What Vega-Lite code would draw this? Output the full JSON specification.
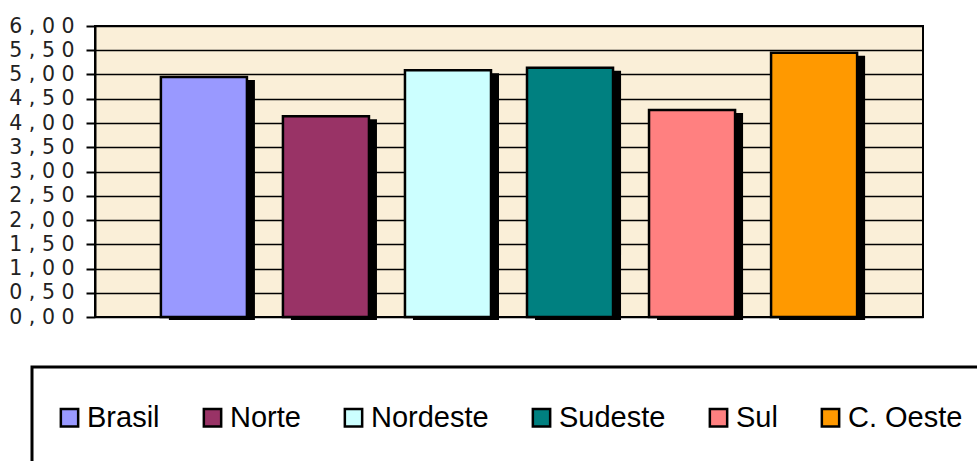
{
  "$schema": "https://vega.github.io/schema/vega-lite/v6.json",
  "width": 828,
  "height": 291,
  "autosize": {"type": "none"},
  "padding": {"left": 95, "top": 26, "right": 54, "bottom": 144},
  "background": "white",
  "config": {
    "view": {"fill": "#FAEFD8", "stroke": "#000", "strokeWidth": 2}
  },
  "data": {
    "values": [
      {"regiao": "Brasil", "valor": 4.95},
      {"regiao": "Norte", "valor": 4.14},
      {"regiao": "Nordeste", "valor": 5.09},
      {"regiao": "Sudeste", "valor": 5.14},
      {"regiao": "Sul", "valor": 4.27},
      {"regiao": "C. Oeste", "valor": 5.45}
    ]
  },
  "encoding": {
    "x": {
      "field": "regiao",
      "type": "nominal",
      "sort": null,
      "scale": {"paddingInner": 0.295, "paddingOuter": 0.54},
      "axis": {"title": null, "labels": false, "ticks": false, "domain": false, "grid": false}
    },
    "y": {
      "field": "valor",
      "type": "quantitative",
      "scale": {"domain": [0, 6], "nice": false},
      "axis": {
        "title": null,
        "values": [0, 0.5, 1, 1.5, 2, 2.5, 3, 3.5, 4, 4.5, 5, 5.5, 6],
        "labelExpr": "join(split(replace(format(datum.value,'.2f'),'.',','),''),' ')",
        "labelFont": "DejaVu Sans",
        "labelFontSize": 20.5,
        "labelColor": "#222",
        "labelPadding": 12,
        "labelFlush": false,
        "labelOverlap": false,
        "tickColor": "#000",
        "tickSize": 9,
        "tickWidth": 2,
        "domainColor": "#000",
        "domainWidth": 2,
        "gridColor": "#000",
        "gridWidth": 1.5
      }
    }
  },
  "layer": [
    {"mark": {"type": "bar", "color": "#000", "xOffset": 8, "yOffset": 3}},
    {
      "mark": {"type": "bar", "stroke": "#000", "strokeWidth": 2.5},
      "encoding": {
        "color": {
          "field": "regiao",
          "type": "nominal",
          "scale": {
            "domain": ["Brasil", "Norte", "Nordeste", "Sudeste", "Sul", "C. Oeste"],
            "range": ["#9999FF", "#993366", "#CCFFFF", "#008080", "#FF8080", "#FF9900"]
          },
          "legend": {
            "orient": "none",
            "legendX": -63,
            "legendY": 341,
            "direction": "horizontal",
            "title": "\u00a0",
            "titleFontSize": 6,
            "titlePadding": 0,
            "padding": 30,
            "symbolOffset": -7,
            "strokeColor": "#000",
            "labelFont": "Liberation Sans",
            "labelFontSize": 29,
            "labelColor": "#000",
            "labelLimit": 300,
            "labelOffset": 3,
            "columnPadding": 38,
            "symbolType": "square",
            "symbolSize": 300,
            "symbolStrokeColor": "#000",
            "symbolStrokeWidth": 2.5,
            "symbolOpacity": 1,
            "encode": {"legend": {"update": {"strokeWidth": {"value": 3}}}}
          }
        }
      }
    }
  ]
}
